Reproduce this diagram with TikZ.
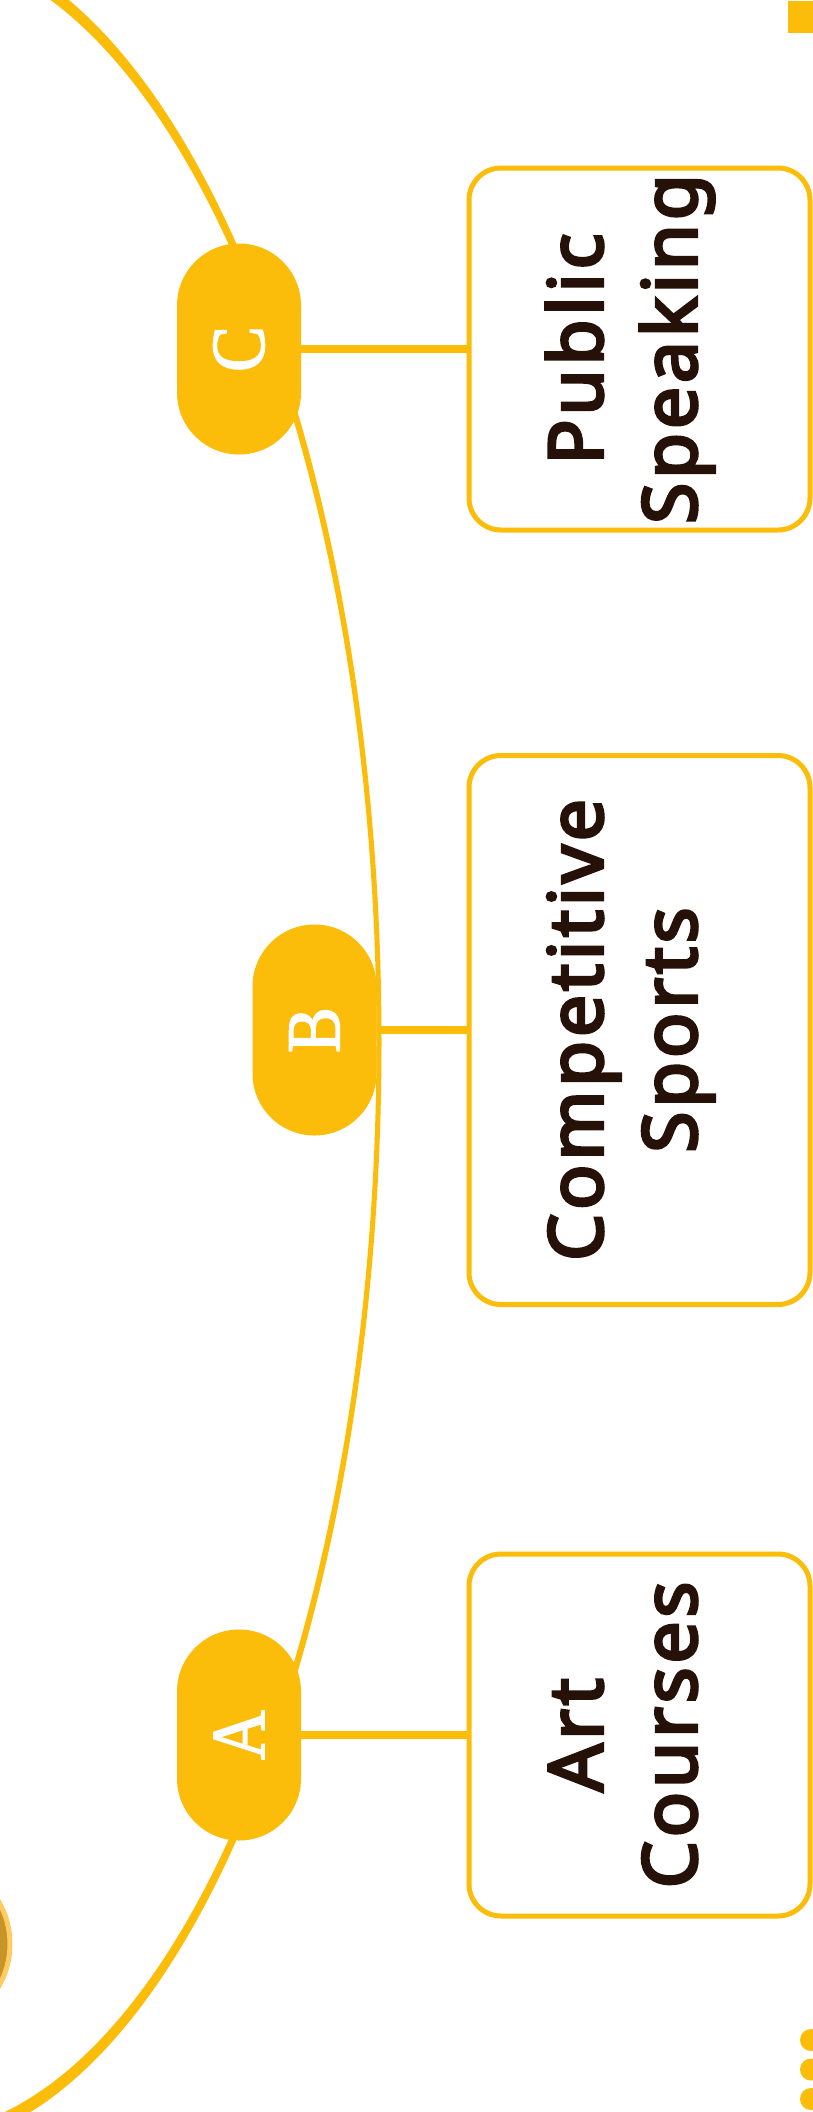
\documentclass[tikz,border=0pt]{standalone}
\usepackage{fontspec}
\setmainfont{Noto Sans}
\newfontfamily\topicfont[FakeBold=4, LetterSpace=5]{Noto Sans}
\newfontfamily\pillfont[FakeStretch=0.9, FakeBold=2]{Liberation Serif}
\usetikzlibrary{positioning}

\definecolor{gold}{HTML}{FBBD0A}
\definecolor{ink}{HTML}{261108}
\definecolor{coinring}{HTML}{FFCB62}
\definecolor{coinface}{HTML}{C6952A}

\begin{document}
\begin{tikzpicture}[
  x=1pt, y=-1pt,
  pill/.style={fill=gold, rotate=90, rounded corners=62pt, minimum width=211pt,
    minimum height=124pt, inner sep=0pt, text=white,
    font=\pillfont\fontsize{76}{76}\selectfont},
  topic/.style={draw=gold, line width=5pt, fill=white, rotate=90, rounded corners=32pt,
    minimum height=341pt, inner sep=0pt, align=center, text=ink,
    text height=114pt, text depth=0pt,
    font=\topicfont\fontsize{75}{94}\selectfont},
  link/.style={gold, line width=7.5pt}
]

  % page
  \fill[white] (0,0) rectangle (812,2112);
  \useasboundingbox (0,0) rectangle (812,2112);

  % big arc behind the pills
  \fill[gold, even odd rule] (-91,1042) ellipse [x radius=472.5, y radius=1107]
                             (-91,1042) ellipse [x radius=467.5, y radius=1093];

  % coin at the left edge
  \draw[coinring, line width=5pt, fill=coinface] (-75,1944) circle (85pt);

  % corner marks
  \fill[gold] (788,1) rectangle (815,33);
  \foreach \y in {2040,2069.5,2099} {
    \fill[gold] (811,\y) circle (11pt);
  }

  % pills
  \node[pill] (pC) at (239,349) {C};
  \node[pill] (pB) at (314.5,1030) {B};
  \node[pill] (pA) at (239,1735) {A};

  % topic boxes
  \node[topic, minimum width=362pt] (tC) at (639.5,349) {Public\\Speaking};
  \node[topic, minimum width=549pt] (tB) at (639.5,1030) {Competitive\\Sports};
  \node[topic, minimum width=362pt] (tA) at (639.5,1735) {Art\\Courses};

  % links
  \draw[link] (pC) -- (tC);
  \draw[link] (pB) -- (tB);
  \draw[link] (pA) -- (tA);

\end{tikzpicture}
\end{document}
